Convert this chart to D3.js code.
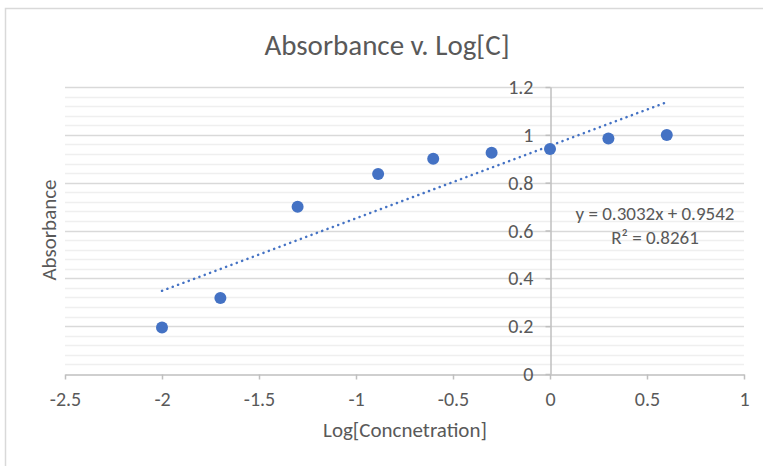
<!DOCTYPE html>
<html><head><meta charset="utf-8">
<script src="https://cdn.jsdelivr.net/npm/d3@7"></script>
<style>
html,body{margin:0;padding:0;background:#fff;}
text{font-family:Carlito,Calibri,"Open Sans",sans-serif;fill:#595959;}
</style></head>
<body><svg id="c" width="763" height="466"></svg>
<script>
const logConc = [-2, -1.699, -1.301, -0.886, -0.602, -0.301, 0, 0.301, 0.602];
const absorbance = [0.194, 0.318, 0.699, 0.836, 0.900, 0.925, 0.941, 0.985, 0.999];
const xTicks = [-2.5, -2, -1.5, -1, -0.5, 0, 0.5, 1];
const yTicks = [0, 0.2, 0.4, 0.6, 0.8, 1, 1.2];
const trendSlope = 0.3032, trendIntercept = 0.9542;
const eqLabel = "y = 0.3032x + 0.9542";
const r2Label = "R² = 0.8261";

const svg = d3.select("#c");
svg.append("rect").attr("x",5.5).attr("y",8.5).attr("width",900).attr("height",600)
  .attr("fill","#fff").attr("stroke","#d9d9d9").attr("stroke-width",1.5);

const x = d3.scaleLinear().domain([-2.5,1]).range([65,744]);
const y = d3.scaleLinear().domain([0,1.2]).range([374,87]);

// minor gridlines
const minor = d3.range(0,1.2001,0.04).filter(v=>Math.abs(v/0.2-Math.round(v/0.2))>1e-6);
svg.append("g").selectAll("line").data(minor).join("line")
  .attr("x1",x(-2.5)).attr("x2",x(1))
  .attr("y1",d=>Math.round(y(d))+0.5).attr("y2",d=>Math.round(y(d))+0.5)
  .attr("stroke","#efefef").attr("stroke-width",1.5);
svg.append("g").selectAll("line").data(yTicks.filter(v=>v>0)).join("line")
  .attr("x1",x(-2.5)).attr("x2",x(1))
  .attr("y1",d=>Math.round(y(d))+0.5).attr("y2",d=>Math.round(y(d))+0.5)
  .attr("stroke","#d9d9d9").attr("stroke-width",1.5);

// x axis at y=0
const xAxis = svg.append("g").attr("transform",`translate(0,${Math.round(y(0))+0.5})`)
  .call(d3.axisBottom(x).tickValues(xTicks).tickSize(5).tickSizeOuter(0).tickFormat(d=>d3.format("")(d).replace("−","-")));
xAxis.select(".domain").attr("stroke","#bfbfbf").attr("stroke-width",1.5);
xAxis.selectAll(".tick line").attr("stroke","#bfbfbf").attr("stroke-width",1.5);
xAxis.selectAll(".tick text").attr("font-size",20).attr("dy",0).attr("y",31).style("fill","#595959");

// y axis at x=0
const yAxis = svg.append("g").attr("transform",`translate(${Math.round(x(0))+0.5},0)`)
  .call(d3.axisLeft(y).tickValues(yTicks).tickSize(5).tickSizeOuter(0).tickFormat(d3.format("")));
yAxis.select(".domain").attr("stroke","#bfbfbf").attr("stroke-width",1.5);
yAxis.selectAll(".tick line").attr("stroke","#bfbfbf").attr("stroke-width",1.5);
yAxis.selectAll(".tick text").attr("font-size",20).attr("x",-17).attr("dy","0.33em").style("fill","#595959");

// trendline
const tx = d3.extent(logConc);
svg.append("line")
  .attr("x1",x(tx[0])).attr("y1",y(trendSlope*tx[0]+trendIntercept))
  .attr("x2",x(tx[1])).attr("y2",y(trendSlope*tx[1]+trendIntercept))
  .attr("stroke","#4472c4").attr("stroke-width",2.5)
  .attr("stroke-dasharray","0.1 5.6").attr("stroke-linecap","round");

// points
svg.append("g").selectAll("circle").data(logConc).join("circle")
  .attr("cx",d=>x(d)).attr("cy",(d,i)=>y(absorbance[i])).attr("r",6)
  .attr("fill","#4472c4");

// labels
svg.append("text").attr("x",387).attr("y",55).attr("text-anchor","middle")
  .attr("font-size",29).text("Absorbance v. Log[C]");
svg.append("text").attr("x",405).attr("y",437).attr("text-anchor","middle")
  .attr("font-size",21).text("Log[Concnetration]");
svg.append("text").attr("transform","translate(56,230) rotate(-90)").attr("text-anchor","middle")
  .attr("font-size",21).text("Absorbance");
svg.append("text").attr("x",655).attr("y",220).attr("text-anchor","middle")
  .attr("font-size",19).text(eqLabel);
svg.append("text").attr("x",655).attr("y",244).attr("text-anchor","middle")
  .attr("font-size",19).text(r2Label);
</script></body></html>
